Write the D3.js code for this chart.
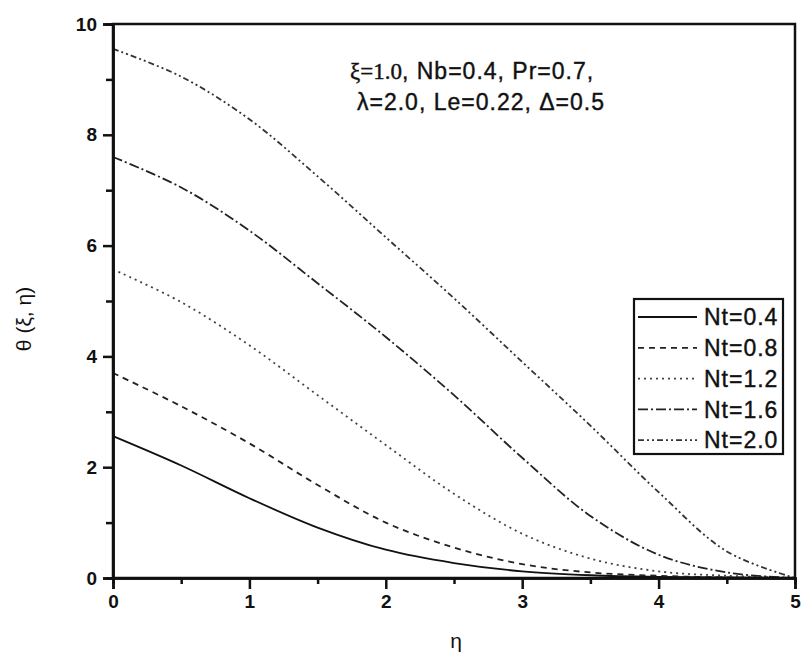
<!DOCTYPE html>
<html><head><meta charset="utf-8">
<script src="https://cdn.jsdelivr.net/npm/d3@7"></script>
<style>body{margin:0;background:#fff}svg{display:block}</style>
</head><body>
<script>
const etaValues = [0, 0.5, 1, 1.5, 2, 2.5, 3, 3.5, 4, 4.5, 5];
const nt04 = [2.56, 2.03, 1.44, 0.91, 0.51, 0.27, 0.12, 0.05, 0.02, 0.01, 0];
const nt08 = [3.70, 3.10, 2.43, 1.68, 1.00, 0.55, 0.25, 0.10, 0.04, 0.01, 0];
const nt12 = [5.57, 4.98, 4.20, 3.30, 2.40, 1.52, 0.80, 0.35, 0.12, 0.04, 0];
const nt16 = [7.60, 7.05, 6.27, 5.32, 4.35, 3.30, 2.17, 1.12, 0.42, 0.10, 0];
const nt20 = [9.55, 9.05, 8.28, 7.25, 6.15, 5.05, 3.90, 2.75, 1.55, 0.48, 0];
const seriesLabels = ["Nt=0.4", "Nt=0.8", "Nt=1.2", "Nt=1.6", "Nt=2.0"];
const xTicks = [0, 1, 2, 3, 4, 5];
const yTicks = [0, 2, 4, 6, 8, 10];
const xMinor = [0.5, 1.5, 2.5, 3.5, 4.5];
const yMinor = [1, 3, 5, 7, 9];

const seriesData = [nt04, nt08, nt12, nt16, nt20];
const dashes = ["none", "6,5", "2,4", "10,3,2,3", "6,3,2,3,2,3"];
const strokes = ["#111", "#222", "#444", "#222", "#333"];

const W = 802, H = 662;
const L = 113, R = 795, T = 24, B = 578;
const svg = d3.select("body").append("svg").attr("width", W).attr("height", H);
const x = d3.scaleLinear().domain([0, 5]).range([L, R]);
const y = d3.scaleLinear().domain([0, 10]).range([B, T]);
const font = "'Liberation Sans', Arial, sans-serif";

// curves
const line = d3.line().x((d, i) => x(etaValues[i])).y(d => y(d)).curve(d3.curveCatmullRom.alpha(0.5));
seriesData.forEach((s, k) => {
  svg.append("path").datum(s).attr("d", line).attr("fill", "none")
    .attr("stroke", strokes[k]).attr("stroke-width", 1.8)
    .attr("stroke-dasharray", dashes[k]);
});

// frame
svg.append("rect").attr("x", L).attr("y", T).attr("width", R - L).attr("height", B - T)
  .attr("fill", "none").attr("stroke", "#111").attr("stroke-width", 2.5);

// axes
const xAxis = svg.append("g").attr("transform", `translate(0,${B})`)
  .call(d3.axisBottom(x).tickValues(xTicks).tickSize(11).tickPadding(6).tickFormat(d3.format("d")));
const xAxisMinor = svg.append("g").attr("transform", `translate(0,${B})`)
  .call(d3.axisBottom(x).tickValues(xMinor).tickSize(6).tickFormat(""));
const yAxis = svg.append("g").attr("transform", `translate(${L},0)`)
  .call(d3.axisLeft(y).tickValues(yTicks).tickSize(10).tickPadding(6).tickFormat(d3.format("d")));
const yAxisMinor = svg.append("g").attr("transform", `translate(${L},0)`)
  .call(d3.axisLeft(y).tickValues(yMinor).tickSize(7).tickFormat(""));
[xAxis, xAxisMinor, yAxis, yAxisMinor].forEach(g => {
  g.select(".domain").attr("stroke", "#111").attr("stroke-width", 2.5);
  g.selectAll(".tick line").attr("stroke", "#111").attr("stroke-width", 2.5);
  g.selectAll(".tick text").attr("fill", "#111").style("font-family", font)
    .style("font-size", "19px").style("font-weight", "bold");
});

// axis labels
svg.append("text").attr("x", 456).attr("y", 648).attr("text-anchor", "middle")
  .style("font-family", font).style("font-size", "21px").attr("fill", "#111").text("η");
svg.append("text").attr("transform", "translate(31,319) rotate(-90)").attr("text-anchor", "middle")
  .style("font-family", font).style("font-size", "21px").attr("fill", "#111").text("θ (ξ, η)");

// annotation
const annStyle = sel => sel.style("font-size", "23px").attr("fill", "#111")
  .attr("stroke", "#111").attr("stroke-width", 0.4).style("letter-spacing", "1px");
const ann1 = svg.append("text").attr("x", 350).attr("y", 79).call(annStyle);
ann1.append("tspan").style("font-family", "'Liberation Serif', 'Times New Roman', serif")
  .style("letter-spacing", "0px").text("ξ=1.0");
ann1.append("tspan").style("font-family", font).text(", Nb=0.4, Pr=0.7,");
svg.append("text").attr("x", 357).attr("y", 110).call(annStyle)
  .style("font-family", font).text("λ=2.0, Le=0.22, Δ=0.5");

// legend
const lg = svg.append("g");
lg.append("rect").attr("x", 634).attr("y", 299).attr("width", 149).attr("height", 155)
  .attr("fill", "#fff").attr("stroke", "#111").attr("stroke-width", 2.2);
seriesLabels.forEach((lab, k) => {
  const yy = 317 + k * 30.8;
  lg.append("line").attr("x1", 638).attr("x2", 697).attr("y1", yy).attr("y2", yy)
    .attr("stroke", strokes[k]).attr("stroke-width", 1.8).attr("stroke-dasharray", dashes[k]);
  lg.append("text").attr("x", 704).attr("y", yy).attr("dy", "0.36em")
    .style("font-family", font).style("font-size", "23px").style("letter-spacing", "1px")
    .attr("stroke", "#111").attr("stroke-width", 0.4)
    .attr("fill", "#111").text(lab);
});
</script>
</body></html>
